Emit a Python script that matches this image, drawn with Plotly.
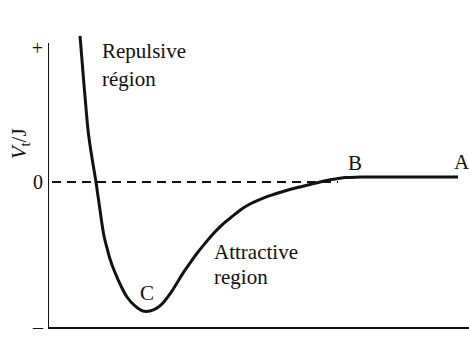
import plotly.graph_objects as go

# Potential energy curve V_t(r) for two approaching atoms (arbitrary units)
r_pm = [32, 34, 36, 38, 40, 42, 44, 46, 48, 50, 52, 54, 56, 59, 62, 66, 72,
        79, 87, 95, 102, 109, 115, 122, 129, 135, 142, 150, 159, 165, 172,
        178, 185, 193, 202, 214, 227, 240, 252, 262, 272, 280, 287, 297,
        312, 410]
v_t = [1.007, 0.841, 0.669, 0.510, 0.359, 0.255, 0.166, 0.083, 0.0, -0.097,
       -0.193, -0.290, -0.372, -0.455, -0.531, -0.607, -0.703, -0.793,
       -0.855, -0.890, -0.890, -0.869, -0.834, -0.772, -0.697, -0.628,
       -0.559, -0.483, -0.407, -0.359, -0.310, -0.272, -0.234, -0.190,
       -0.152, -0.114, -0.083, -0.055, -0.034, -0.017, 0.0, 0.012, 0.021,
       0.031, 0.034, 0.034]

y_tick_vals = [-1.0, 0.0, 0.924]
y_tick_text = ["\u2013", "0", "+"]

serif = "Liberation Serif, DejaVu Serif, Times New Roman, serif"
ink = "#111111"

fig = go.Figure()
fig.add_trace(go.Scatter(
    x=r_pm, y=v_t, mode="lines",
    line=dict(color=ink, width=3, shape="spline", smoothing=1.0),
    hoverinfo="skip", showlegend=False,
))

# zero-energy reference line and vertical axis
fig.add_shape(type="line", x0=4, x1=290, y0=0, y1=0,
              line=dict(color=ink, width=2, dash="9px,6px"))
fig.add_shape(type="line", x0=0, x1=0, y0=-1.0, y1=0.959,
              line=dict(color=ink, width=2))

labels = [
    ("D", 32, 1.110, "center"),
    ("Repulsive", 52, 0.903, "left"),
    ("région", 52, 0.710, "left"),
    ("C", 99, -0.766, "center"),
    ("Attractive", 164, -0.483, "left"),
    ("region", 164, -0.655, "left"),
    ("B", 307, 0.131, "center"),
    ("A", 414, 0.138, "center"),
    ("<i>r</i>/pm", 214, -1.138, "center"),
]
for text, x, y, anchor in labels:
    fig.add_annotation(x=x, y=y, text=text, showarrow=False, xanchor=anchor,
                       yanchor="middle", font=dict(family=serif, size=21, color=ink))

fig.add_annotation(x=-0.0665, xref="paper", y=0.26, text="<i>V</i><sub>t</sub>/J",
                   showarrow=False, textangle=-90, xanchor="center", yanchor="middle",
                   font=dict(family=serif, size=21, color=ink))

fig.update_layout(
    width=469, height=357,
    margin=dict(l=48, r=0, t=30, b=30),
    paper_bgcolor="white", plot_bgcolor="white",
    xaxis=dict(range=[0, 421], showgrid=False, zeroline=False, showticklabels=False,
               ticks="", showline=True, linecolor=ink, linewidth=2),
    yaxis=dict(range=[-1.0, 1.0483], showgrid=False, zeroline=False, showline=False,
               tickvals=y_tick_vals, ticktext=y_tick_text, ticks="",
               ticklabelstandoff=4,
               tickfont=dict(family=serif, size=20, color=ink)),
)

fig.write_html("out.html")
